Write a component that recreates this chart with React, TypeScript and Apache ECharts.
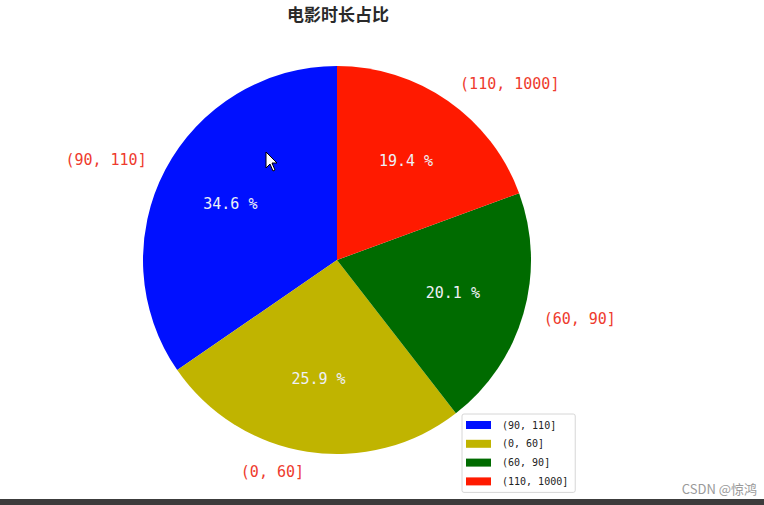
import * as echarts from 'echarts';
import { useEffect, useRef } from 'react';

// 电影时长分段 (matplotlib 默认逆时针, 从 90° 开始)
const categories = ['(90, 110]', '(0, 60]', '(60, 90]', '(110, 1000]'];
const shares = [34.6, 25.9, 20.1, 19.4];
const colors = ['#0010ff', '#c0b400', '#006b00', '#ff1a00'];

const FONT = '"Noto Sans CJK SC", "DejaVu Sans", sans-serif';
const MONO = '"DejaVu Sans Mono", "Liberation Mono", monospace';

export default function App() {
  const chartRef = useRef<HTMLDivElement>(null);

  useEffect(() => {
    if (!chartRef.current) return;
    document.body.style.margin = '0';

    const chart = echarts.init(chartRef.current, null, { renderer: 'svg' });

    const pieData = categories.map((name, i) => ({
      name,
      value: shares[i],
      itemStyle: { color: colors[i] },
    }));

    chart.setOption({
      animation: false,
      backgroundColor: '#ffffff',
      title: {
        text: '电影时长占比',
        left: 282,
        top: 0,
        textStyle: {
          fontFamily: FONT,
          fontSize: 17,
          fontWeight: 'bold',
          color: '#2a2a2a',
        },
      },
      legend: {
        orient: 'vertical',
        left: 462,
        top: 414,
        data: categories,
        icon: 'rect',
        itemWidth: 25,
        itemHeight: 8,
        itemGap: 6.8,
        padding: [5, 7, 5, 4],
        borderColor: '#d6d6d6',
        borderWidth: 1,
        borderRadius: 2,
        backgroundColor: '#ffffff',
        textStyle: {
          fontFamily: MONO,
          fontSize: 10,
          lineHeight: 12,
          color: '#222222',
          padding: [0, 0, 0, 6],
        },
      },
      series: [
        {
          name: '占比',
          type: 'pie',
          center: [337, 260],
          radius: 194,
          startAngle: 90,
          clockwise: false,
          avoidLabelOverlap: false,
          percentPrecision: 1,
          data: pieData,
          label: {
            show: true,
            position: 'outside',
            formatter: '{b}',
            distanceToLabelLine: 0,
            fontFamily: MONO,
            fontSize: 15,
            color: '#ee3b2e',
          },
          labelLine: { show: false, length: 21, length2: 0 },
          emphasis: { disabled: true },
        },
        {
          name: '百分比',
          type: 'pie',
          center: [337, 260],
          radius: [0, 235],
          startAngle: 90,
          clockwise: false,
          silent: true,
          avoidLabelOverlap: false,
          percentPrecision: 1,
          data: pieData.map((d) => ({ ...d, itemStyle: { color: 'rgba(0,0,0,0)' } })),
          label: {
            show: true,
            position: 'inside',
            formatter: (p: any) => `${p.percent.toFixed(1)} %`,
            fontFamily: MONO,
            fontSize: 15,
            color: '#eef0f6',
          },
          labelLine: { show: false },
          emphasis: { disabled: true },
          legendHoverLink: false,
        },
      ],
      graphic: [
        {
          type: 'text',
          right: 7,
          top: 482,
          style: {
            text: 'CSDN @惊鸿',
            fontFamily: FONT,
            fontSize: 13,
            fill: '#9a9a9a',
          },
        },
        {
          type: 'rect',
          left: 0,
          top: 499,
          shape: { width: 764, height: 6 },
          style: { fill: '#3c3c3c' },
        },
        {
          type: 'polygon',
          z: 100,
          shape: {
            points: [
              [266, 152], [266, 168], [270, 164], [273, 171],
              [275, 170], [272, 163], [277, 163],
            ],
          },
          style: { fill: '#ffffff', stroke: '#000000', lineWidth: 1 },
        },
      ],
    });

    return () => {
      chart.dispose();
    };
  }, []);

  return <div ref={chartRef} style={{ width: '764px', height: '505px' }} />;
}
